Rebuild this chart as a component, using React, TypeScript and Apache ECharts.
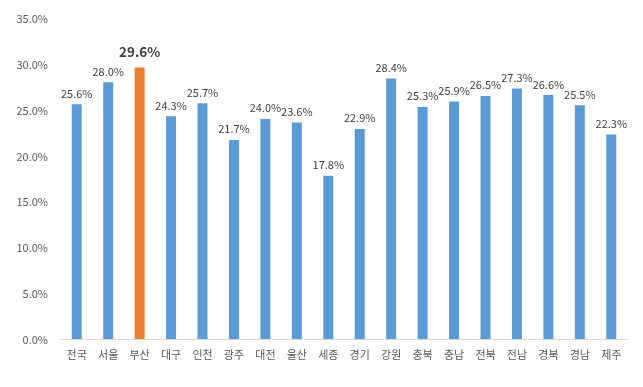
import React, { useEffect, useRef } from "react";
import * as echarts from "echarts";

const categories = ["전국", "서울", "부산", "대구", "인천", "광주", "대전", "울산", "세종", "경기", "강원", "충북", "충남", "전북", "전남", "경북", "경남", "제주"];
const values = [25.6, 28.0, 29.6, 24.3, 25.7, 21.7, 24.0, 23.6, 17.8, 22.9, 28.4, 25.3, 25.9, 26.5, 27.3, 26.6, 25.5, 22.3];
const highlightCategory = "부산";

export default function App() {
  const ref = useRef<HTMLDivElement>(null);
  useEffect(() => {
    const chart = echarts.init(ref.current!, undefined, { renderer: "svg" });
    const font = "'Noto Sans CJK KR', 'Noto Sans', sans-serif";
    chart.setOption({
      animation: false,
      grid: { left: 61, right: 16, top: 18, bottom: 48 },
      xAxis: {
        type: "category",
        data: categories,
        axisLine: { lineStyle: { color: "#d9d9d9" } },
        axisTick: { show: false },
        axisLabel: { color: "#595959", fontSize: 11, fontFamily: font, margin: 9 },
      },
      yAxis: {
        type: "value",
        min: 0,
        max: 35,
        interval: 5,
        splitLine: { show: false },
        axisLine: { show: false },
        axisTick: { show: false },
        axisLabel: {
          color: "#595959",
          fontSize: 11,
          fontFamily: font,
          margin: 13,
          formatter: (v: number) => v.toFixed(1) + "%",
        },
      },
      series: [
        {
          type: "bar",
          barWidth: 10,
          data: categories.map((c, i) => {
            const hl = c === highlightCategory;
            return {
              value: values[i],
              itemStyle: { color: hl ? "#ed7d31" : "#5b9bd5" },
              label: hl
                ? { fontSize: 13.5, fontWeight: "bold", color: "#404040", distance: 10 }
                : undefined,
            };
          }),
          label: {
            show: true,
            position: "top",
            distance: 6,
            color: "#404040",
            fontSize: 11,
            fontFamily: font,
            formatter: (p: any) => p.value.toFixed(1) + "%",
          },
        },
      ],
    });
    return () => chart.dispose();
  }, []);
  return <div ref={ref} style={{ position: "fixed", left: 0, top: 0, width: 643, height: 387 }} />;
}
